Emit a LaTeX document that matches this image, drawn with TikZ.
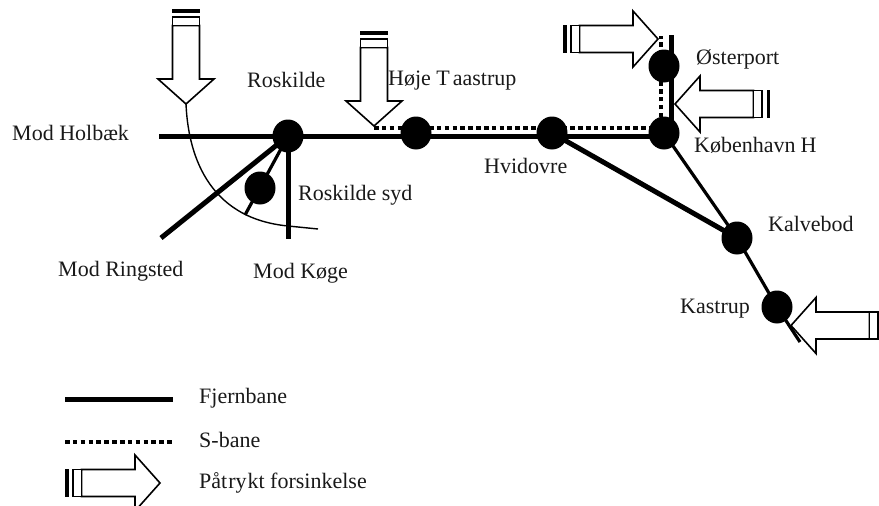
\documentclass[tikz,border=0pt]{standalone}
\usepackage{fontspec}
\setmainfont[Kerning=Off]{Liberation Serif}
\usetikzlibrary{shapes.geometric}
\tikzset{
  x=1pt,y=-1pt,
  station/.style={ellipse,fill=black,inner sep=0pt,minimum width=31pt,minimum height=33pt},
  lbl/.style={anchor=base west,inner sep=0pt,font=\fontsize{22}{26}\selectfont,text=black!90},
  fern/.style={line width=5pt},
  thinrail/.style={line width=3.2pt},
  sbane/.style={line width=4.6pt,dash pattern=on 4.6pt off 3.25pt},
  curveline/.style={line width=1.4pt},
  pressarrow/.pic={
    \draw[line width=1.6pt,fill=white,miter limit=10] (0,0) -- (25,-28) -- (25,-13.5) -- (78.5,-13.5) -- (78.5,13.5) -- (25,13.5) -- (25,28) -- cycle;
    \draw[line width=1.3pt,fill=white] (78.5,-13.5) rectangle (87,13.5);
    \fill (91.5,-14) rectangle (95,14);
  }
}
\begin{document}
\begin{tikzpicture}
\useasboundingbox (0,0) rectangle (879,506);
% stations
\node[station] (ros) at (288,136) {};
\node[station] (syd) at (260,188) {};
\node[station] (hoj) at (416,133) {};
\node[station] (hvi) at (552,133) {};
\node[station] (kbh) at (664,133) {};
\node[station] (ost) at (664,66) {};
\node[station] (kal) at (737,238) {};
\node[station] (kas) at (777,307) {};
% free ends
\coordinate (holb) at (159,136);
\coordinate (ring) at (161,238);
\coordinate (koge) at (288,239);
\coordinate (sydend) at (245,215);
\coordinate (kbhtop) at (671,35);
\coordinate (kbhbase) at (671,136);
\coordinate (kasend) at (800,342);
\coordinate (dotstart) at (374,128);
\coordinate (dotcorner) at (661,128);
\coordinate (dotend) at (661,36);
\coordinate (bendtop) at (186,104);
\coordinate (bendend) at (318,229);
\coordinate (lega) at (65,399);
\coordinate (legb) at (173,399);
\coordinate (legc) at (65,442);
\coordinate (legd) at (173,442);
% rails
\draw[fern] (holb) -- (ros.center) -- (664,136);
\draw[fern] (ros.center) -- (ring);
\draw[fern] (ros.center) -- (koge);
\draw[thinrail] (ros.center) -- (sydend);
\draw[fern] (kbhtop) -- (kbhbase);
\draw[fern] (hvi.center) -- (kal.center);
\draw[thinrail] (kbh.center) -- (kal.center) -- (kas.center) -- (kasend);
\draw[sbane] (dotstart) -- (dotcorner);
\draw[sbane] (661,125) -- (dotend);
\draw[curveline] (bendtop) .. controls (188,150) and (205,218) .. (288,226) -- (bendend);
% arrows
\pic[rotate=90] at (186,104) {pressarrow};
\pic[rotate=90] at (374,126) {pressarrow};
\pic[rotate=180] at (658,39) {pressarrow};
\pic at (675,104) {pressarrow};
\pic at (791,325.5) {pressarrow};
\pic[rotate=180] at (160,483) {pressarrow};
% labels
\node[lbl] (t1) at (12,140) {Mod Holbæk};
\node[lbl] (t2) at (247,87) {Roskilde};
\node[lbl] (t3) at (298,200) {Roskilde syd};
\node[lbl] (t4) at (388,85) {Høje T\kern3pt aastrup};
\node[lbl] (t5) at (484,173) {Hvidovre};
\node[lbl] (t6) at (696,64) {Østerport};
\node[lbl] (t7) at (694,152) {København\kern5pt H};
\node[lbl] (t8) at (768,231) {Kalvebod};
\node[lbl] (t9) at (680,313) {Kastrup};
\node[lbl] (t10) at (58,276) {Mod Ringsted};
\node[lbl] (t11) at (253,278) {Mod Køge};
\draw[fern] (lega) -- (legb);
\draw[sbane] (legc) -- (legd);
\node[lbl] (t12) at (199,403) {Fjernbane};
\node[lbl] (t13) at (199,447) {S-bane};
\node[lbl] (t14) at (199,488) {Påt\kern1pt ry\kern1pt kt forsinkelse};
\end{tikzpicture}
\end{document}
